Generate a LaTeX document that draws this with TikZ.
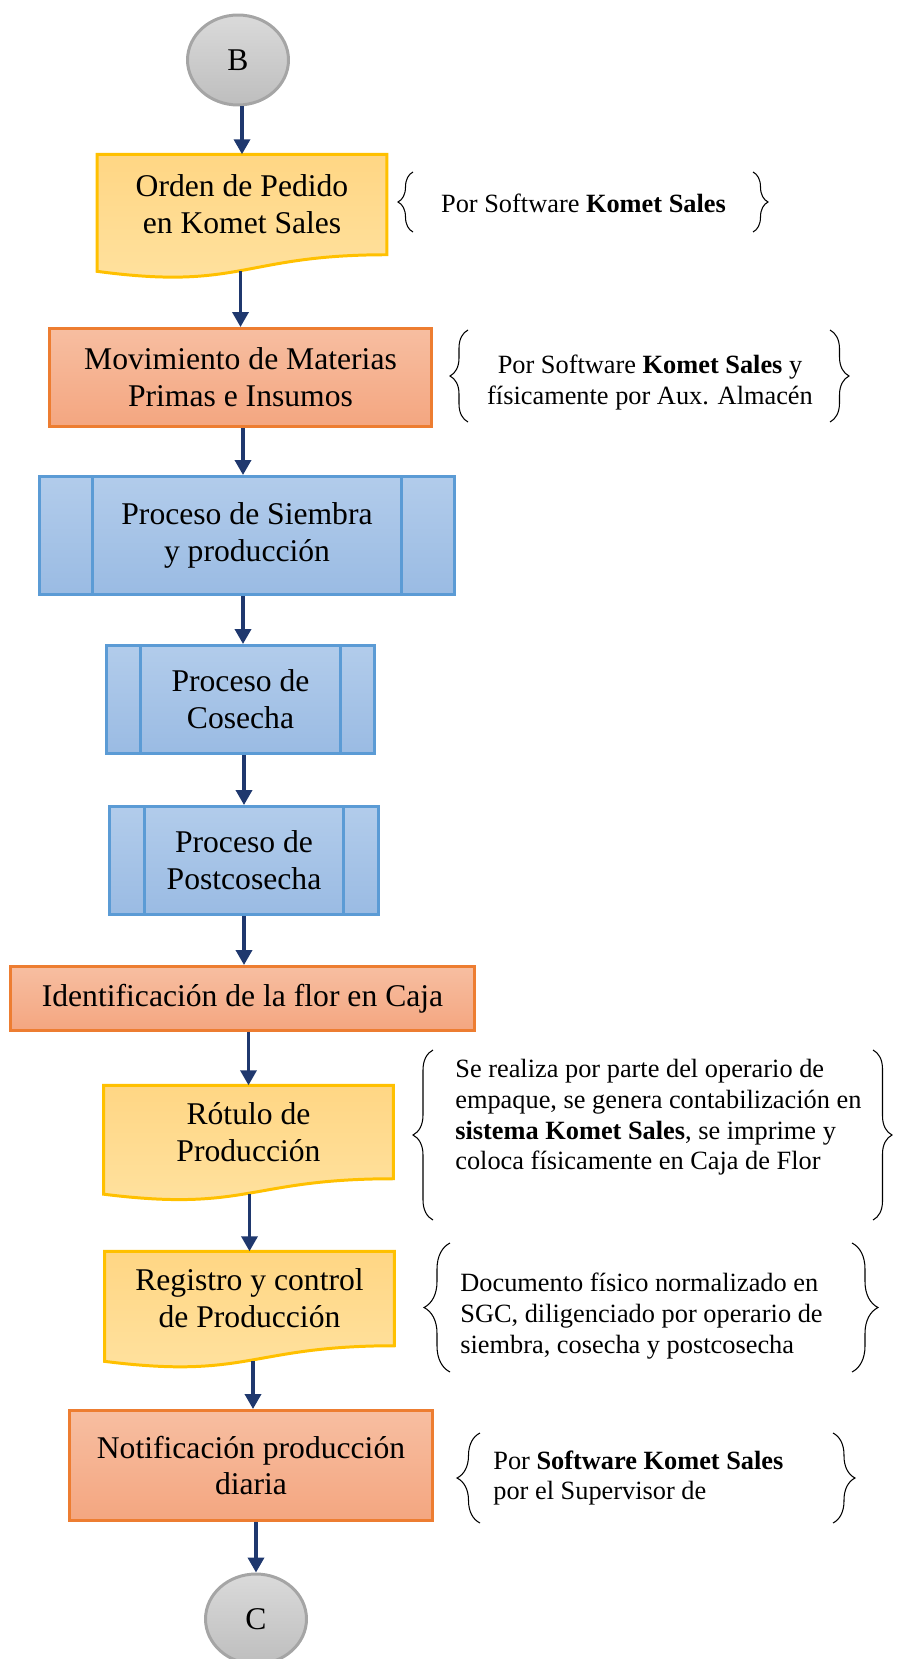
\documentclass[tikz,border=0pt]{standalone}
\usepackage{fontspec}
\setmainfont{Liberation Serif}
\usetikzlibrary{shapes.geometric,arrows.meta,calc,backgrounds,decorations.pathreplacing}

\definecolor{azulflecha}{RGB}{31,56,110}
\definecolor{bordeamarillo}{RGB}{255,192,0}
\definecolor{amarillo1}{RGB}{255,214,132}
\definecolor{amarillo2}{RGB}{255,226,160}
\definecolor{bordenaranja}{RGB}{237,125,49}
\definecolor{naranja1}{RGB}{247,190,161}
\definecolor{naranja2}{RGB}{244,166,128}
\definecolor{bordeazul}{RGB}{91,155,213}
\definecolor{azul1}{RGB}{178,204,235}
\definecolor{azul2}{RGB}{154,187,227}
\definecolor{gris1}{RGB}{218,218,218}
\definecolor{gris2}{RGB}{190,190,190}
\definecolor{bordegris}{RGB}{165,165,165}

% forma de documento (borde inferior ondulado)
\newcommand{\docforma}[1]{%
  \path[draw=bordeamarillo, line width=1.7pt, top color=amarillo1, bottom color=amarillo2]
    (#1.north west) -- (#1.north east) -- (#1.south east)
    .. controls (#1.south) and ($(#1.south)!-0.36!(#1.north)$)
    .. ($(#1.south west)!-0.165!(#1.north west)$) -- cycle;}

\begin{document}
\begin{tikzpicture}[x=0.02cm, y=-0.02cm,
    every node/.style={font=\fontsize{18}{21}\selectfont},
    conector/.style={ellipse, draw=bordegris, line width=1.7pt, top color=gris1, bottom color=gris2, minimum width=2.02cm, minimum height=1.8cm},
    doc/.style={rectangle, align=center, outer sep=0pt, minimum width=5.8cm},
    proceso/.style={rectangle, draw=bordenaranja, line width=1.7pt, top color=naranja1, bottom color=naranja2, align=center},
    subproc/.style={rectangle, draw=bordeazul, line width=1.7pt, top color=azul1, bottom color=azul2, align=center,
        path picture={\draw[bordeazul, line width=1.7pt]
            ([xshift=#1]path picture bounding box.north west) -- ([xshift=#1]path picture bounding box.south west)
            ([xshift=-#1]path picture bounding box.north east) -- ([xshift=-#1]path picture bounding box.south east);}},
    nota/.style={inner sep=0pt, font=\fontsize{15}{17.5}\selectfont},
    llave/.style={decorate, decoration={brace, amplitude=#1}, line width=0.6pt},
    flecha/.style={-{Triangle[width=0.32cm,length=0.3cm]}, line width=2pt, azulflecha}]
    \useasboundingbox (0,0) rectangle (914,1659);

    \node[conector] (b) at (238,60) {B};
    \node[doc, minimum height=2.01cm] (orden) at (242,204.5) {Orden de Pedido\\en Komet Sales};
    \node[proceso, minimum width=7.64cm, minimum height=1.96cm] (mov) at (240.5,377.5) {Movimiento de Materias\\Primas e Insumos};
    \node[subproc=1.05cm, minimum width=8.3cm, minimum height=2.36cm] (siembra) at (247,535.5) {Proceso de Siembra\\y producción};
    \node[subproc=0.67cm, minimum width=5.36cm, minimum height=2.16cm] (cosecha) at (240.5,699.5) {Proceso de\\Cosecha};
    \node[subproc=0.69cm, minimum width=5.38cm, minimum height=2.16cm] (post) at (244,860.5) {Proceso de\\Postcosecha};
    \node[proceso, minimum width=9.28cm, minimum height=1.28cm] (ident) at (242.5,998.5) {Identificación de la flor en Caja};
    \node[doc, minimum height=1.87cm] (rotulo) at (248.5,1132) {Rótulo de\\Producción};
    \node[doc, minimum height=1.89cm] (registro) at (249.5,1298.5) {Registro y control\\de Producción};
    \node[proceso, minimum width=7.26cm, minimum height=2.2cm] (notif) at (251,1465.5) {Notificación producción\\diaria};
    \node[conector] (c) at (256,1619) {C};

    \begin{scope}[on background layer]
        \docforma{orden}
        \docforma{rotulo}
        \docforma{registro}
    \end{scope}

    % notas
    \node[nota] (n1) at (583.5,203) {Por Software \textbf{Komet Sales}};
    \node[nota, align=center] (n2) at (650,382.5) {Por Software \textbf{Komet Sales} y\\físicamente por Aux. Almacén};
    \node[nota, align=left, anchor=west] (n3) at (455,1117.5) {Se realiza por parte del operario de\\empaque, se genera contabilización en\\\textbf{sistema Komet Sales}, se imprime y\\coloca físicamente en Caja de Flor};
    \node[nota, align=left, anchor=west] (n4) at (460,1316) {Documento físico normalizado en\\SGC, diligenciado por operario de\\siembra, cosecha y postcosecha};
    \node[nota, align=left, anchor=west] (n5) at (493,1478) {Por \textbf{Software Komet Sales}\\por el Supervisor de};

    \draw[llave=0.3cm] (413,232) -- (413,172);
    \draw[llave=0.3cm] (753,172) -- (753,232);
    \draw[llave=0.36cm] (468,422) -- (468,330);
    \draw[llave=0.38cm] (830,330) -- (830,422);
    \draw[llave=0.4cm] (433,1220) -- (433,1050);
    \draw[llave=0.38cm] (873,1050) -- (873,1220);
    \draw[llave=0.52cm] (450,1372) -- (450,1243);
    \draw[llave=0.52cm] (852,1243) -- (852,1372);
    \draw[llave=0.46cm] (480,1523) -- (480,1433);
    \draw[llave=0.44cm] (833,1433) -- (833,1523);

    \draw[flecha] (b.south -| orden) -- (orden.north);
    \draw[flecha] ([yshift=-0.33cm]orden.south -| mov) -- (mov.north);
    \draw[flecha] (mov.south -| 243,0) -- (siembra.north -| 243,0);
    \draw[flecha] (siembra.south -| 243,0) -- (cosecha.north -| 243,0);
    \draw[flecha] (cosecha.south -| post) -- (post.north);
    \draw[flecha] (post.south) -- (post.south |- ident.north);
    \draw[flecha] (ident.south -| rotulo) -- (rotulo.north);
    \draw[flecha] ([yshift=-0.3cm]rotulo.south -| registro) -- (registro.north);
    \draw[flecha] ([yshift=-0.3cm]registro.south -| 253,0) -- (notif.north -| 253,0);
    \draw[flecha] (notif.south -| c) -- (c.north);
\end{tikzpicture}
\end{document}
